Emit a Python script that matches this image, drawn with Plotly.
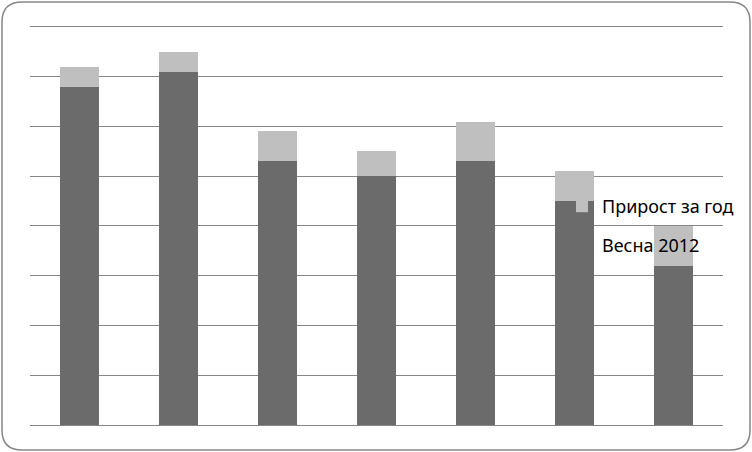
import plotly.graph_objects as go

categories = ["1", "2", "3", "4", "5", "6", "7"]
spring_2012 = [6.8, 7.1, 5.3, 5.0, 5.3, 4.5, 3.2]
growth = [0.4, 0.4, 0.6, 0.5, 0.8, 0.6, 0.8]
series_names = ["Весна 2012", "Прирост за год"]

W, H = 752, 452
ML, MR, MT, MB = 30, 29, 22, 27
PW, PH = W - ML - MR, H - MT - MB
YMAX = 8.1


def px(xp):
    return (xp - ML) / PW


def py(yp):
    return (H - MB - yp) / PH


fig = go.Figure()
fig.add_trace(go.Bar(x=categories, y=spring_2012, name=series_names[0],
                     marker=dict(color="#6b6b6b", line=dict(width=0)),
                     legendgroup="a", legendrank=2))
fig.add_trace(go.Bar(x=categories, y=growth, name=series_names[1],
                     marker=dict(color="#bfbfbf", line=dict(width=0)),
                     legendgroup="b", legendrank=1))

# rounded border
x0, x1, y0, y1, r = 2, 750, 2, 450, 20
path = (f"M {px(x0+r)},{py(y0)} L {px(x1-r)},{py(y0)} Q {px(x1)},{py(y0)} {px(x1)},{py(y0+r)} "
        f"L {px(x1)},{py(y1-r)} Q {px(x1)},{py(y1)} {px(x1-r)},{py(y1)} "
        f"L {px(x0+r)},{py(y1)} Q {px(x0)},{py(y1)} {px(x0)},{py(y1-r)} "
        f"L {px(x0)},{py(y0+r)} Q {px(x0)},{py(y0)} {px(x0+r)},{py(y0)} Z")
fig.add_shape(type="path", path=path, xref="paper", yref="paper",
              line=dict(color="#868686", width=1.5), layer="above")

fig.update_layout(
    width=W, height=H,
    margin=dict(l=ML, r=MR, t=MT, b=MB, pad=0, autoexpand=False),
    barmode="stack",
    bargap=0.6,
    paper_bgcolor="white",
    plot_bgcolor="white",
    font=dict(family="Noto Sans", size=18, color="#000000"),
    xaxis=dict(showticklabels=False, showgrid=False, zeroline=False,
               showline=False, ticks=""),
    yaxis=dict(range=[0, YMAX], tick0=0, dtick=1, showticklabels=False, showgrid=True,
               gridcolor="#868686", gridwidth=1.4, zeroline=True,
               zerolinecolor="#868686", zerolinewidth=1.4, ticks=""),
    legend=dict(x=px(562), y=py(188), xanchor="left", yanchor="top",
                bgcolor="rgba(0,0,0,0)", borderwidth=0,
                traceorder="grouped", tracegroupgap=12,
                font=dict(family="Noto Sans", size=18)),
    showlegend=True,
)

fig.write_html("out.html", config={"displayModeBar": False},
               post_script="document.body.style.margin='0';document.body.style.overflow='hidden';")
